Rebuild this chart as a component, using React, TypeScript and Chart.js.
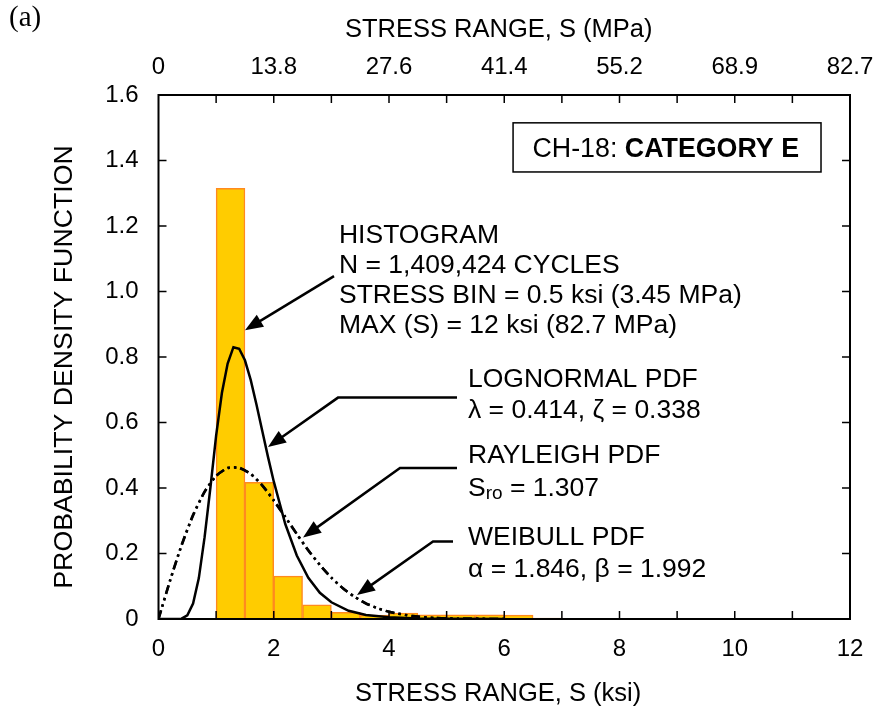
import React, { useEffect, useRef } from 'react';
import { Chart, registerables } from 'chart.js';

Chart.register(...registerables);

const FONT = '"Liberation Sans", Arial, Helvetica, sans-serif';
const SERIF = '"Liberation Serif", "Times New Roman", serif';

// Histogram (stress bin = 0.5 ksi), bin centers in ksi and density
const binCenters = [1.25, 1.75, 2.25, 2.75, 3.25, 3.75, 4.25, 4.75, 5.25, 5.75, 6.25, 6.75];
const binDensity = [1.315, 0.417, 0.131, 0.043, 0.02, 0.012, 0.018, 0.013, 0.013, 0.013, 0.012, 0.003];

// Lognormal PDF curve
const lognormalS = [0, 0.2, 0.3, 0.4, 0.5, 0.6, 0.7, 0.8, 0.9, 1.0, 1.1, 1.2, 1.3, 1.4, 1.5, 1.6, 1.7, 1.8, 1.9, 2.0, 2.2, 2.4, 2.6, 2.8, 3.0, 3.3, 3.6, 4.0, 4.5, 5.0, 6.0];
const lognormalPdf = [0, 0, 0.0001, 0.001, 0.011, 0.047, 0.125, 0.25, 0.40, 0.56, 0.69, 0.78, 0.83, 0.825, 0.79, 0.73, 0.655, 0.575, 0.495, 0.42, 0.29, 0.194, 0.126, 0.080, 0.051, 0.025, 0.012, 0.005, 0.0015, 0.0004, 0];

// Rayleigh and Weibull PDF curves
const pdfS = [0, 0.2, 0.4, 0.6, 0.8, 1.0, 1.2, 1.4, 1.6, 1.8, 2.0, 2.2, 2.4, 2.6, 2.8, 3.0, 3.2, 3.4, 3.6, 3.8, 4.0, 4.4, 4.8, 5.2, 6.0];
const rayleighPdf = [0, 0.116, 0.224, 0.316, 0.388, 0.437, 0.461, 0.462, 0.443, 0.408, 0.363, 0.312, 0.260, 0.210, 0.165, 0.126, 0.094, 0.068, 0.047, 0.033, 0.022, 0.009, 0.003, 0.001, 0];
const weibullPdf = [0, 0.118, 0.226, 0.318, 0.389, 0.437, 0.461, 0.461, 0.443, 0.408, 0.361, 0.311, 0.259, 0.209, 0.165, 0.126, 0.094, 0.068, 0.048, 0.033, 0.022, 0.009, 0.003, 0.001, 0];

// Tick labels
const mpaTickLabels = ['0', '13.8', '27.6', '41.4', '55.2', '68.9', '82.7'];
const yTickLabels = ['0', '0.2', '0.4', '0.6', '0.8', '1.0', '1.2', '1.4', '1.6'];

function drawArrow(ctx: CanvasRenderingContext2D, pts: number[][]) {
  const n = pts.length;
  const [tx, ty] = pts[n - 1];
  const [px, py] = pts[n - 2];
  const ang = Math.atan2(ty - py, tx - px);
  const L = 18, W = 7;
  const bx = tx - Math.cos(ang) * L;
  const by = ty - Math.sin(ang) * L;
  ctx.beginPath();
  ctx.moveTo(pts[0][0], pts[0][1]);
  for (let i = 1; i < n - 1; i++) ctx.lineTo(pts[i][0], pts[i][1]);
  ctx.lineTo(bx + Math.cos(ang) * 2, by + Math.sin(ang) * 2);
  ctx.stroke();
  ctx.beginPath();
  ctx.moveTo(tx, ty);
  ctx.lineTo(bx + Math.sin(ang) * W, by - Math.cos(ang) * W);
  ctx.lineTo(bx - Math.sin(ang) * W, by + Math.cos(ang) * W);
  ctx.closePath();
  ctx.fill();
}

const decorPlugin = {
  id: 'decor',
  afterDatasetsDraw(chart: any) {
    const { ctx, chartArea: ca, scales } = chart;
    const X = (v: number) => scales.x.getPixelForValue(v);
    const Y = (v: number) => scales.y.getPixelForValue(v);
    ctx.save();
    ctx.strokeStyle = '#000';
    ctx.fillStyle = '#000';
    // inward tick marks
    ctx.lineWidth = 1.5;
    ctx.beginPath();
    for (let v = 1; v < 12; v++) {
      const px = X(v);
      ctx.moveTo(px, ca.bottom); ctx.lineTo(px, ca.bottom - 8);
      ctx.moveTo(px, ca.top); ctx.lineTo(px, ca.top + 8);
    }
    for (let i = 1; i < yTickLabels.length - 1; i++) {
      const py = Y(i * 0.2);
      ctx.moveTo(ca.left, py); ctx.lineTo(ca.left + 8, py);
      ctx.moveTo(ca.right, py); ctx.lineTo(ca.right - 8, py);
    }
    ctx.stroke();
    // frame
    ctx.lineWidth = 2;
    ctx.strokeRect(ca.left, ca.top, ca.right - ca.left, ca.bottom - ca.top);

    // axis titles
    ctx.textBaseline = 'alphabetic';
    ctx.textAlign = 'left';
    ctx.font = `25.5px ${FONT}`;
    ctx.fillText('STRESS RANGE, S (MPa)', 345, 37);
    ctx.fillText('STRESS RANGE, S (ksi)', 355, 701);
    ctx.save();
    ctx.translate(72, 367);
    ctx.rotate(-Math.PI / 2);
    ctx.textAlign = 'center';
    ctx.font = `26.7px ${FONT}`;
    ctx.fillText('PROBABILITY DENSITY FUNCTION', 0, 0);
    ctx.restore();

    // panel label
    ctx.font = `29px ${SERIF}`;
    ctx.fillText('(a)', 9, 26);

    // category box
    ctx.lineWidth = 1.5;
    const bx0 = X(6.153), bx1 = X(11.497), by0 = Y(1.515), by1 = Y(1.365);
    ctx.strokeRect(bx0, by0, bx1 - bx0, by1 - by0);
    ctx.font = `26.8px ${FONT}`;
    const t1 = 'CH-18: ';
    const tx = X(6.49), ty = Y(1.41);
    ctx.fillText(t1, tx, ty);
    const w1 = ctx.measureText(t1).width;
    ctx.font = `bold 26.8px ${FONT}`;
    ctx.fillText('CATEGORY E', tx + w1, ty);

    // annotation texts
    const AF = `26.5px ${FONT}`;
    ctx.font = AF;
    const hx = X(3.132);
    ctx.fillText('HISTOGRAM', hx, Y(1.148));
    ctx.fillText('N = 1,409,424 CYCLES', hx, Y(1.056));
    ctx.fillText('STRESS BIN = 0.5 ksi (3.45 MPa)', hx, Y(0.965));
    ctx.fillText('MAX (S) = 12 ksi (82.7 MPa)', hx, Y(0.873));
    const lx = X(5.371);
    ctx.fillText('LOGNORMAL PDF', lx, Y(0.708));
    ctx.fillText('\u03bb = 0.414, \u03b6 = 0.338', lx, Y(0.614));
    ctx.fillText('RAYLEIGH PDF', lx, Y(0.476));
    const sy = Y(0.376);
    ctx.fillText('S', lx, sy);
    const ws = ctx.measureText('S').width;
    ctx.font = `19px ${FONT}`;
    ctx.fillText('ro', lx + ws, sy + 3);
    const wro = ctx.measureText('ro').width;
    ctx.font = AF;
    ctx.fillText(' = 1.307', lx + ws + wro, sy);
    ctx.fillText('WEIBULL PDF', lx, Y(0.226));
    ctx.fillText('\u03b1 = 1.846, \u03b2 = 1.992', lx, Y(0.128));

    // arrows
    ctx.lineWidth = 2.5;
    const arrows = [
      [[3.046, 1.047], [1.501, 0.882]],
      [[5.18, 0.676], [3.115, 0.676], [1.9, 0.525]],
      [[5.18, 0.461], [4.191, 0.461], [2.508, 0.249]],
      [[5.111, 0.237], [4.764, 0.237], [3.445, 0.073]],
    ];
    for (const a of arrows) drawArrow(ctx, a.map(([u, v]) => [X(u), Y(v)]));
    ctx.restore();
  },
};

export default function App() {
  const ref = useRef<HTMLCanvasElement>(null);
  useEffect(() => {
    Chart.defaults.font.family = FONT;
    Chart.defaults.color = '#000';
    const tickFont = { family: FONT, size: 24 };
    const chart = new Chart(ref.current as HTMLCanvasElement, {
      type: 'line',
      data: {
        datasets: [
          {
            type: 'line',
            label: 'Lognormal PDF',
            data: lognormalS.map((s, i) => ({ x: s, y: lognormalPdf[i] })),
            borderColor: '#000',
            borderWidth: 2.5,
            pointRadius: 0,
            tension: 0,
            fill: false,
          },
          {
            type: 'line',
            label: 'Rayleigh PDF',
            data: pdfS.map((s, i) => ({ x: s, y: rayleighPdf[i] })),
            borderColor: '#000',
            borderWidth: 2.5,
            borderDash: [9, 4, 2.5, 4, 2.5, 4],
            pointRadius: 0,
            tension: 0.2,
            fill: false,
          },
          {
            type: 'line',
            label: 'Weibull PDF',
            data: pdfS.map((s, i) => ({ x: s, y: weibullPdf[i] })),
            borderColor: '#000',
            borderWidth: 2.5,
            borderDash: [9, 4, 2.5, 4, 2.5, 4],
            pointRadius: 0,
            tension: 0.2,
            fill: false,
          },
          {
            type: 'bar',
            label: 'Histogram',
            data: binCenters.map((c, i) => ({ x: c, y: binDensity[i] })),
            backgroundColor: '#FFCC00',
            borderColor: '#FF8A1F',
            borderWidth: 1.5,
            barPercentage: 1,
            categoryPercentage: 1,
          } as any,
        ],
      },
      options: {
        responsive: false,
        animation: false,
        layout: { padding: { left: 0, right: 28, top: 0, bottom: 0 } },
        plugins: { legend: { display: false }, tooltip: { enabled: false } },
        scales: {
          x: {
            type: 'linear',
            position: 'bottom',
            min: 0,
            max: 12,
            offset: false,
            ticks: { stepSize: 2, font: tickFont, color: '#000', padding: 16, maxRotation: 0, autoSkip: false },
            grid: { display: false, drawTicks: false },
            border: { display: false },
            afterFit: (s: any) => { s.height = 91; s.paddingLeft = 0; s.paddingRight = 0; },
          },
          x2: {
            type: 'linear',
            position: 'top',
            min: 0,
            max: 12,
            offset: false,
            ticks: {
              stepSize: 2,
              font: tickFont,
              color: '#000',
              padding: 13,
              maxRotation: 0,
              autoSkip: false,
              callback: (v: any) => mpaTickLabels[Math.round(Number(v) / 2)],
            },
            grid: { display: false, drawTicks: false },
            border: { display: false },
            afterFit: (s: any) => { s.height = 95; s.paddingLeft = 0; s.paddingRight = 0; },
          },
          y: {
            type: 'linear',
            position: 'left',
            min: 0,
            max: 1.6,
            ticks: {
              stepSize: 0.2,
              font: tickFont,
              color: '#000',
              padding: 20,
              callback: (v: any) => yTickLabels[Math.round(Number(v) / 0.2)],
            },
            grid: { display: false, drawTicks: false },
            border: { display: false },
            afterFit: (s: any) => { s.width = 158.5; s.paddingTop = 0; s.paddingBottom = 0; },
          },
        },
      } as any,
      plugins: [decorPlugin],
    });
    return () => chart.destroy();
  }, []);
  return (
    <div style={{ position: 'fixed', left: 0, top: 0, width: 878, height: 710, background: '#fff' }}>
      <canvas ref={ref} width={878} height={710} style={{ display: 'block' }} />
    </div>
  );
}
